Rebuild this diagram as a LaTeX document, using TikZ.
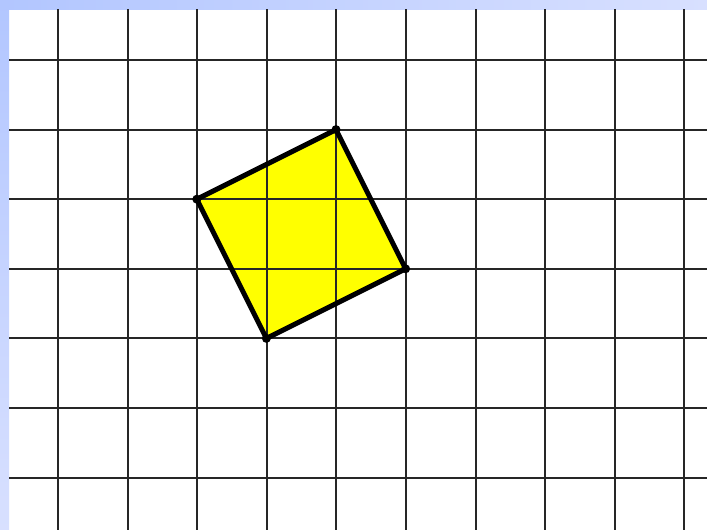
\documentclass[tikz,border=0pt]{standalone}
\usepackage{tikz}

\definecolor{edgeblue}{RGB}{178,198,255}
\definecolor{paleblue}{RGB}{216,224,255}
\definecolor{squareyellow}{RGB}{255,255,0}

\begin{document}
\begin{tikzpicture}[x=1pt,y=-1pt]
	\useasboundingbox (0,0) rectangle (707,530);
	\fill[white] (0,0) rectangle (707,530);

	% blue border strips
	\shade[top color=edgeblue,bottom color=paleblue] (0,0) rectangle (9,530);
	\shade[left color=edgeblue,right color=paleblue] (0,0) rectangle (707,9);

	\coordinate (A) at (336,129.6);
	\coordinate (B) at (405.6,268.8);
	\coordinate (C) at (266.4,338.4);
	\coordinate (D) at (196.8,199.2);

	\fill[squareyellow] (A) -- (B) -- (C) -- (D) -- cycle;

	% grid
	\begin{scope}[draw=black!85,line width=2pt]
		\foreach \i in {0,...,9}
			\draw (58+69.6*\i,9) -- (58+69.6*\i,530);
		\foreach \j in {0,...,6}
			\draw (9,60+69.6*\j) -- (707,60+69.6*\j);
	\end{scope}

	\draw[line width=5pt,line join=round] (A) -- (B) -- (C) -- (D) -- cycle;

	% corner dots
	\foreach \p in {A,B,C,D}
		\fill (\p) circle (4.5);
\end{tikzpicture}
\end{document}
